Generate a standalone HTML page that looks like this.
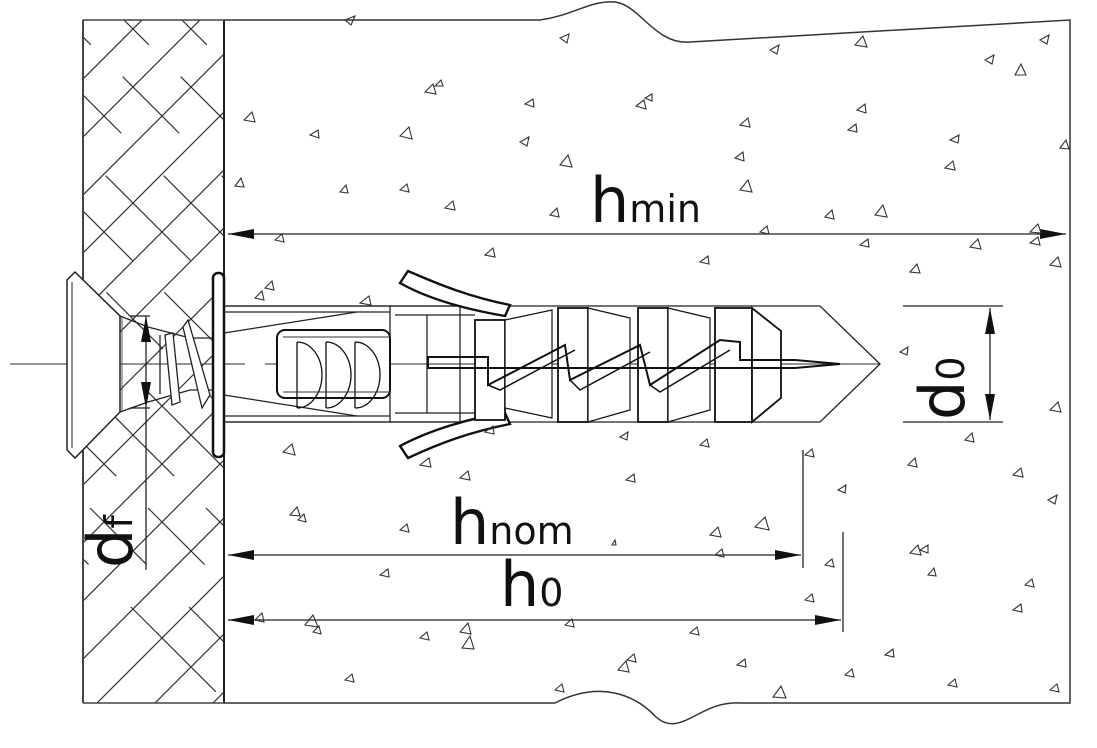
<!DOCTYPE html>
<html><head><meta charset="utf-8"><style>
html,body{margin:0;padding:0;background:#fff;}
svg{display:block;}
text{font-family:"DejaVu Sans","Liberation Sans",sans-serif;fill:#111;}
</style></head><body>
<svg width="1097" height="748" viewBox="0 0 1097 748" xmlns="http://www.w3.org/2000/svg">
<defs>
<clipPath id="wall"><rect x="83" y="20" width="141" height="683"/></clipPath>
<marker id="ar" markerWidth="26" markerHeight="10" refX="26" refY="5" orient="auto" markerUnits="userSpaceOnUse"><path d="M0,0 L26,5 L0,10 Z" fill="#111"/></marker>
<marker id="al" markerWidth="26" markerHeight="10" refX="0" refY="5" orient="auto" markerUnits="userSpaceOnUse"><path d="M26,0 L0,5 L26,10 Z" fill="#111"/></marker>
</defs>
<!-- wall hatch -->
<g clip-path="url(#wall)" stroke="#333" stroke-width="1.2">
<path d="M40,760 L840,-40 M-18,760 L782,-40 M-76,760 L724,-40 M-134,760 L666,-40 M-192,760 L608,-40 M-250,760 L550,-40 M-308,760 L492,-40 M-366,760 L434,-40 M-424,760 L376,-40 M-482,760 L318,-40 M-540,760 L260,-40 M-598,760 L202,-40 M98,760 L898,-40 M156,760 L956,-40"/>
<path stroke-dasharray="120,45,80,60" d="M-400,-40 L400,760 M-342,-40 L458,760 M-284,-40 L516,760 M-226,-40 L574,760 M-168,-40 L632,760 M-110,-40 L690,760 M-52,-40 L748,760 M6,-40 L806,760 M64,-40 L864,760 M122,-40 L922,760 M180,-40 L980,760 M238,-40 L1038,760 M-458,-40 L342,760 M-516,-40 L284,760"/>
</g>
<path d="M83,20 L83,703" stroke="#444" stroke-width="2"/>
<path d="M224,20 L224,703" stroke="#222" stroke-width="2"/>
<path d="M83,20 L224,20 M83,703 L224,703" stroke="#444" stroke-width="1.5"/>
<!-- concrete outline -->
<path d="M224,20 L540,20 C575,15 590,0 615,2 C640,5 655,45 690,42 L1070,20 L1070,703 L740,703 C700,700 680,740 655,716 C635,695 600,680 555,703 L224,703" fill="none" stroke="#333" stroke-width="1.5"/>
<!-- centre line -->
<path d="M10,364 L245,364 M265,364 L880,364" stroke="#555" stroke-width="1.2"/>
<!-- hole -->
<path d="M224,306 L820,306 L880,364 L820,422 L224,422" fill="none" stroke="#222" stroke-width="1.3"/>
<!-- screw head -->
<path d="M75,272 L67,280 L67,450 L75,458 L120,412 L120,316 Z" fill="#fff" stroke="#222" stroke-width="1.5"/>
<path d="M72,282 L72,448" stroke="#222" stroke-width="1"/>
<path d="M120,316 L148,327 L190,338 L215,338 M120,412 L148,402 L190,390 L215,390" fill="none" stroke="#222" stroke-width="1.3"/>
<path d="M122,317 L122,411" stroke="#555" stroke-width="1"/>
<path d="M160,335 L160,394 M165,335 L172,405 L180,402 L173,333 Z M183,327 L188,320 L210,395 L202,408 Z" fill="#fff" stroke="#222" stroke-width="1.3"/>
<!-- flange -->
<rect x="213" y="273" width="11" height="184" rx="5" fill="#fff" stroke="#111" stroke-width="2.5"/>
<!-- sleeve -->
<path d="M224,306 L390,306 L390,422 L224,422 M224,312 L390,312 M224,416 L390,416" fill="none" stroke="#222" stroke-width="1.3"/>
<path d="M224,333 L357,312 M224,395 L357,416" stroke="#222" stroke-width="1.2"/>
<rect x="277" y="330" width="113" height="68" rx="8" fill="#fff" stroke="#111" stroke-width="2"/>
<path d="M297,342 L297,408 M297,342 A25,33 0 0 1 297,408 M326,342 A25,33 0 0 1 326,408 M326,342 L326,408 M355,342 A25,33 0 0 1 355,408 M355,342 L355,408" fill="none" stroke="#111" stroke-width="1.3"/>
<path d="M283,337 L390,337 M283,392 L390,392" stroke="#333" stroke-width="1"/>
<path d="M390,306 L460,306 L460,422 L390,422 M427,315 L427,413 M395,315 L475,315 M395,413 L475,413" fill="none" stroke="#222" stroke-width="1.3"/>
<!-- expanding legs -->
<path d="M400,283 L408,271 C440,285 470,297 510,305 L505,316 C470,310 430,300 400,283 Z" fill="#fff" stroke="#111" stroke-width="2.4"/>
<path d="M400,446 L408,458 C440,443 470,432 510,424 L505,413 C470,418 430,430 400,446 Z" fill="#fff" stroke="#111" stroke-width="2.4"/>
<!-- segments -->
<g fill="#fff" stroke="#111" stroke-width="1.8">
<rect x="475" y="320" width="30" height="100"/>
<path d="M505,320 L552,310 L552,418 L505,408 Z" stroke-width="1.2"/>
<rect x="558" y="308" width="30" height="114"/>
<path d="M588,308 L630,318 L630,410 L588,422 Z" stroke-width="1.2"/>
<rect x="638" y="308" width="30" height="114"/>
<path d="M668,308 L710,318 L710,410 L668,422 Z" stroke-width="1.2"/>
<rect x="715" y="308" width="37" height="114"/>
<path d="M752,308 L781,331 L781,398 L752,422 Z"/>
</g>
<!-- screw shaft zigzag -->
<path d="M428,357 L488,357 L488,385 L565,345 L570,380 L640,345 L650,385 L720,340 L740,342 L740,360 L795,360 L840,364 L795,368 L428,368 Z" fill="none" stroke="#111" stroke-width="2"/>
<path d="M488,385 L500,390 L575,350 M570,380 L580,390 L650,352 M650,385 L660,392 L730,350" fill="none" stroke="#111" stroke-width="1.5"/>
<!-- dimension lines -->
<g stroke="#222" stroke-width="1.3" fill="none">
<path d="M228,234 L1066,234" marker-start="url(#al)" marker-end="url(#ar)"/>
<path d="M228,555 L801,555" marker-start="url(#al)" marker-end="url(#ar)"/>
<path d="M228,620 L841,620" marker-start="url(#al)" marker-end="url(#ar)"/>
<path d="M803,450 L803,568 M843,532 L843,632"/>
<path d="M903,306 L1003,306 M903,422 L1003,422"/>
<path d="M990,308 L990,420" marker-start="url(#al)" marker-end="url(#ar)"/>
<path d="M146,316 L146,408" marker-start="url(#al)" marker-end="url(#ar)"/>
<path d="M146,408 L146,570 M130,316 L150,316 M130,408 L150,408"/>
</g>
<!-- labels -->
<text x="590" y="222" font-size="62">h<tspan font-size="38">min</tspan></text>
<text x="450" y="544" font-size="62">h<tspan font-size="38">nom</tspan></text>
<text x="500" y="606" font-size="62">h<tspan font-size="38">0</tspan></text>
<text transform="translate(964,420) rotate(-90)" font-size="62">d<tspan font-size="38">0</tspan></text>
<text transform="translate(132,568) rotate(-90)" font-size="62">d<tspan font-size="38">f</tspan></text>
<!-- aggregate triangles -->
<g fill="none" stroke="#333" stroke-width="1.1">
<path d="M345,20 l10,-4 l-4,9 z M560,38 l9,-4 l-2,9 z M770,50 l9,-5 l-2,9 z M855,45 l8,-9 l4,11 z M985,60 l9,-5 l-2,9 z M1015,75 l6,-11 l5,11 z M1040,40 l9,-5 l-2,9 z M425,92 l8,-8 l3,10 z M435,86 l6,-6 l2,6z M525,104 l8,-5 l1,8 z M636,106 l8,-6 l2,9 z M645,98 l7,-4 l0,7 z M740,125 l8,-7 l2,9 z M857,110 l8,-6 l1,9 z M848,130 l8,-6 l1,8 z M244,120 l8,-8 l3,10 z M310,135 l8,-5 l1,8 z M400,136 l9,-9 l3,12 z M520,142 l9,-5 l-2,9 z M560,165 l8,-10 l4,12 z M735,158 l8,-6 l1,9 z M950,140 l9,-5 l-1,8 z M1060,148 l6,-8 l3,9 z M945,168 l8,-7 l2,9 z M235,186 l6,-8 l3,9 z M340,192 l6,-7 l2,8 z M400,190 l7,-6 l2,8 z M445,208 l8,-7 l2,9 z M550,215 l7,-7 l2,9 z M740,190 l8,-10 l4,12 z M825,217 l7,-7 l2,9 z M875,215 l8,-10 l4,12 z M760,232 l7,-6 l2,8 z M970,247 l8,-8 l3,10 z M1030,232 l8,-8 l3,9 z M1030,243 l8,-6 l2,8 z M860,245 l8,-6 l1,8 z M275,240 l7,-6 l2,8 z M485,255 l8,-7 l2,9 z M700,262 l8,-6 l1,8 z M910,272 l7,-8 l3,9 z M1050,265 l8,-8 l3,10 z M255,298 l7,-7 l2,9 z M265,288 l7,-7 l2,9 z M360,303 l9,-7 l2,9 z M900,352 l8,-5 l-1,8 z M1050,410 l8,-8 l3,10 z M965,440 l7,-7 l2,9 z M283,452 l9,-8 l3,11 z M420,465 l9,-7 l2,9 z M485,432 l8,-6 l1,8 z M620,437 l8,-5 l-1,8 z M700,445 l7,-6 l2,8 z M805,455 l7,-6 l2,8 z M908,465 l7,-7 l2,9 z M1013,475 l8,-7 l2,9 z M460,478 l8,-7 l2,9 z M626,480 l8,-6 l1,8 z M838,490 l8,-5 l-1,8 z M1048,500 l9,-5 l-2,9 z M290,515 l7,-8 l3,9 z M298,520 l6,-6 l2,8 z M400,530 l7,-6 l2,8 z M710,535 l8,-8 l3,10 z M755,527 l10,-10 l4,13 z M910,553 l8,-8 l3,10 z M920,550 l8,-5 l0,8 z M715,555 l7,-6 l2,8 z M825,565 l7,-6 l2,8 z M928,575 l6,-7 l2,8 z M380,575 l8,-6 l1,8 z M1025,585 l7,-6 l2,8 z M805,600 l7,-6 l2,8 z M1013,610 l8,-6 l1,8 z M255,620 l7,-7 l2,9 z M305,625 l8,-10 l5,12 z M313,632 l6,-6 l2,8 z M460,632 l8,-9 l3,11 z M462,648 l8,-12 l4,13 z M420,638 l7,-6 l2,8 z M565,625 l7,-6 l2,8 z M690,633 l7,-6 l2,8 z M885,655 l8,-6 l1,8 z M618,670 l8,-9 l3,11 z M627,660 l7,-6 l2,8 z M737,665 l8,-6 l1,8 z M345,680 l7,-6 l2,8 z M555,690 l7,-6 l2,8 z M773,697 l8,-11 l5,12 z M845,675 l7,-6 l2,8 z M948,685 l7,-6 l2,8 z M1050,690 l7,-6 l2,8 z M612,545 l3,-5 l1,5 z"/>
</g>
</svg>
</body></html>
